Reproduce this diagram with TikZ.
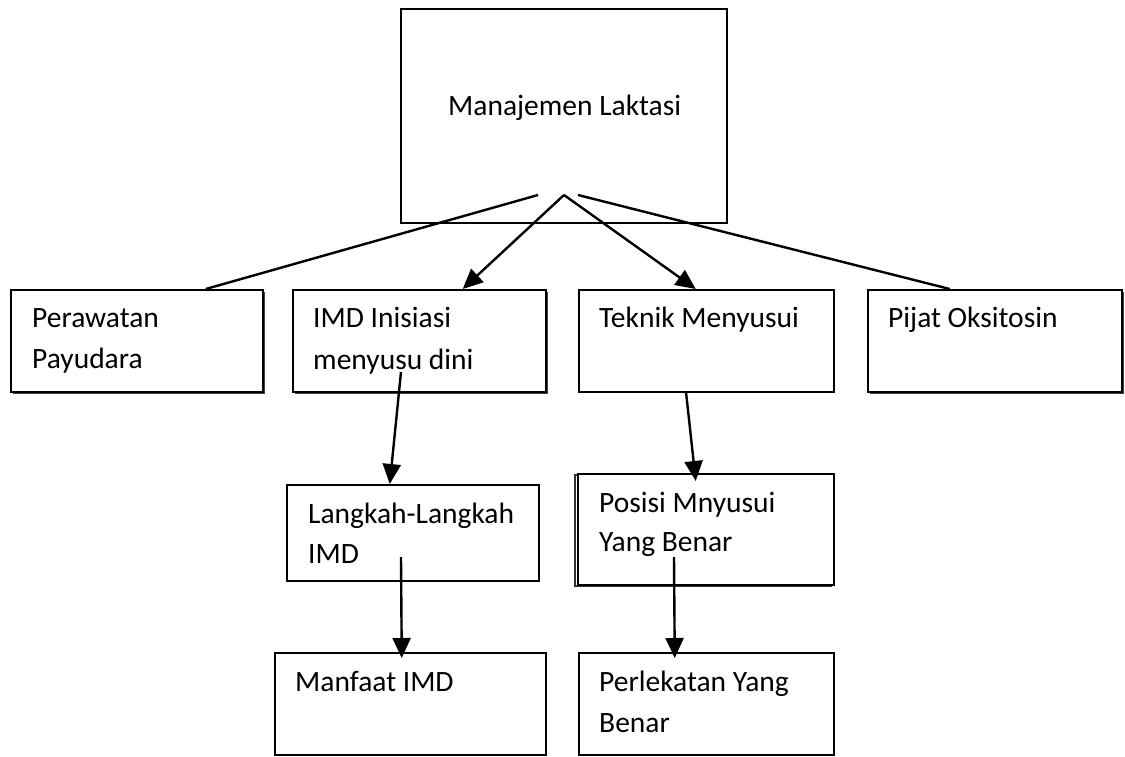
\documentclass[tikz,border=0pt]{standalone}
\usepackage{fontspec}
\setmainfont{Carlito}
\usetikzlibrary{arrows.meta,shadows}
\begin{document}
\begin{tikzpicture}[x=1pt,y=-1pt,
  box/.style={draw=black,line width=1.5pt,fill=white,rectangle,inner sep=0pt,anchor=north west},
  shbox/.style={box,drop shadow={shadow xshift=2pt,shadow yshift=-2pt,fill=black!75,opacity=1}},
  txt/.style={anchor=base west,inner sep=0pt,font=\fontsize{29.5}{40}\selectfont},
  conn/.style={line width=2.4pt},
  arr/.style={line width=2.4pt,-{Triangle[length=20pt,width=18pt]}}]
\useasboundingbox (0,0) rectangle (1125,756);
% boxes
\node[box,minimum width=326pt,minimum height=214pt] (top) at (400,8) {};
\node[shbox,minimum width=252pt,minimum height=102pt] (per) at (10,289) {};
\node[shbox,minimum width=253pt,minimum height=102pt] (imd) at (292,289) {};
\node[box,minimum width=255pt,minimum height=102pt] (tek) at (578,289) {};
\node[shbox,minimum width=254pt,minimum height=102pt] (pij) at (867,289) {};
\node[box,minimum width=252pt,minimum height=96pt] (lan) at (286,484) {};
\node[box,minimum width=256pt,minimum height=111pt,copy shadow={shadow xshift=-3pt,shadow yshift=-1pt,draw=black!80}] (pos) at (577,473) {};
\node[box,minimum width=271pt,minimum height=102pt] (man) at (274,652) {};
\node[box,minimum width=255pt,minimum height=102pt] (per2) at (578,652) {};
% texts
\node[txt] (ttop) at (448,115) {Manajemen Laktasi};
\node[txt] (tper1) at (32,327) {Perawatan};
\node[txt] (tper2) at (32,368) {Payudara};
\node[txt] (timd1) at (313,327) {IMD Inisiasi};
\node[txt] (timd2) at (313,369) {menyusu dini};
\node[txt] (ttek) at (599,327) {Teknik Menyusui};
\node[txt] (tpij) at (888,327) {Pijat Oksitosin};
\node[txt] (tlan1) at (308,523) {Langkah-Langkah};
\node[txt] (tlan2) at (308,563) {IMD};
\node[txt] (tpos1) at (599,512) {Posisi Mnyusui};
\node[txt] (tpos2) at (599,551) {Yang Benar};
\node[txt] (tman) at (295,691) {Manfaat IMD};
\node[txt] (tperl1) at (599,691) {Perlekatan Yang};
\node[txt] (tperl2) at (599,732) {Benar};
% connector points
\coordinate (sL) at (538,195);
\coordinate (sA) at (564,195);
\coordinate (sR) at (578,195);
\coordinate (sI) at (401,372);
\coordinate (sT) at (686,392);
\coordinate (sLa) at (401,557);
\coordinate (sP) at (674,557);
% connectors
\draw[conn] (sL) -- ([xshift=69pt]per.north);
\draw[conn] (sR) -- ([xshift=-45pt]pij.north);
\draw[arr] (sA) -- ([xshift=43.5pt]imd.north);
\draw[arr] (sA) -- ([xshift=-10.5pt]tek.north);
\draw[arr] (sI) -- ([xshift=-23pt]lan.north);
\draw[arr] (sT) -- ([xshift=-10pt,yshift=-8pt]pos.north);
\draw[arr] (sLa) -- ([xshift=-8.5pt,yshift=-6pt]man.north);
\draw[arr] (sP) -- ([xshift=-31.5pt,yshift=-6pt]per2.north);
\end{tikzpicture}
\end{document}
